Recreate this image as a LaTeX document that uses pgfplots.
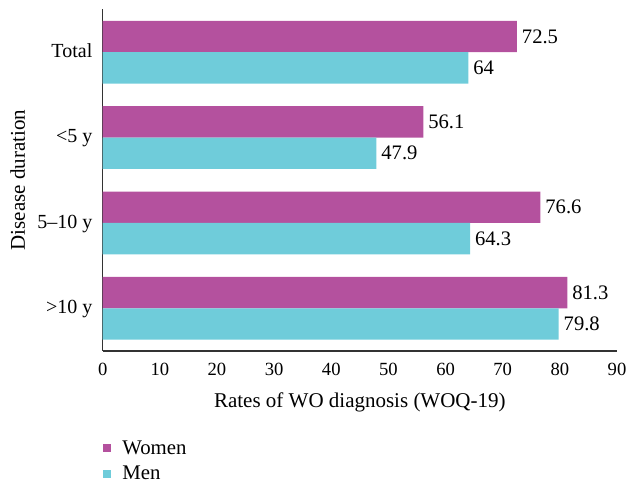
\documentclass[border=0pt]{standalone}
\usepackage{fontspec}
\setmainfont{Liberation Serif}
\usepackage{pgfplots}
\pgfplotsset{compat=1.18}

\definecolor{women}{HTML}{B4519E}
\definecolor{men}{HTML}{6FCCDA}
\definecolor{axisgray}{HTML}{333333}

\begin{document}
\begin{tikzpicture}
\begin{axis}[
  scale only axis,
  width=257.15pt, height=170.75pt,
  xbar,
  bar width=0.367,
  xmin=0, xmax=90,
  ymin=-0.5, ymax=3.5,
  axis x line*=bottom,
  axis y line*=left,
  axis line style={axisgray, line width=0.75pt},
  major tick length=0pt,
  xtick={0,10,...,90},
  ytick={0,1,2,3},
  yticklabels={>10 y, 5–10 y, <5 y, Total},
  /pgf/number format/assume math mode=true,
  xticklabel style={anchor=base, yshift=-12.4pt, inner sep=0pt,
    font=\fontsize{9.3}{11}\selectfont},
  yticklabel style={anchor=base east, xshift=-5pt, yshift=-2.6pt, inner sep=0pt,
    font=\fontsize{10}{12}\selectfont},
  xlabel={Rates of WO diagnosis (WOQ-19)},
  xlabel style={at={(axis description cs:0.5,0)}, anchor=base, yshift=-28.3pt,
    inner sep=0pt, font=\fontsize{10.5}{12}\selectfont},
  nodes near coords,
  nodes near coords style={anchor=west, inner xsep=2.3pt, text=black,
    font=\fontsize{10.3}{12}\selectfont},
  legend style={at={(axis description cs:0,0)}, anchor=north west,
    yshift=-42.6pt, draw=none, fill=none, inner sep=0pt,
    row sep=0.5pt, font=\fontsize{10.4}{12}\selectfont,
    /tikz/every odd column/.append style={column sep=3.6pt}},
  legend cell align=left,
  legend image code/.code={\fill[#1] (0pt,-1.6pt) rectangle (4pt,2.4pt);},
]
\addplot[draw=none, fill=women, bar shift=0.1835] coordinates {
  (72.5,3) (56.1,2) (76.6,1) (81.3,0)
};
\addlegendentry{Women}
\addplot[draw=none, fill=men, bar shift=-0.1835] coordinates {
  (64,3) (47.9,2) (64.3,1) (79.8,0)
};
\addlegendentry{Men}
\coordinate (o) at (rel axis cs:0,0);
\end{axis}
\path (o) ++(-38.85pt,85.4pt) node[rotate=90, anchor=base, inner sep=0pt,
  font=\fontsize{10.5}{12}\selectfont] {Disease duration};
\pgfresetboundingbox
\path[use as bounding box] (o) ++(-51.35pt,-64.5pt) rectangle ++(313.5pt,240pt);
\end{tikzpicture}
\end{document}
